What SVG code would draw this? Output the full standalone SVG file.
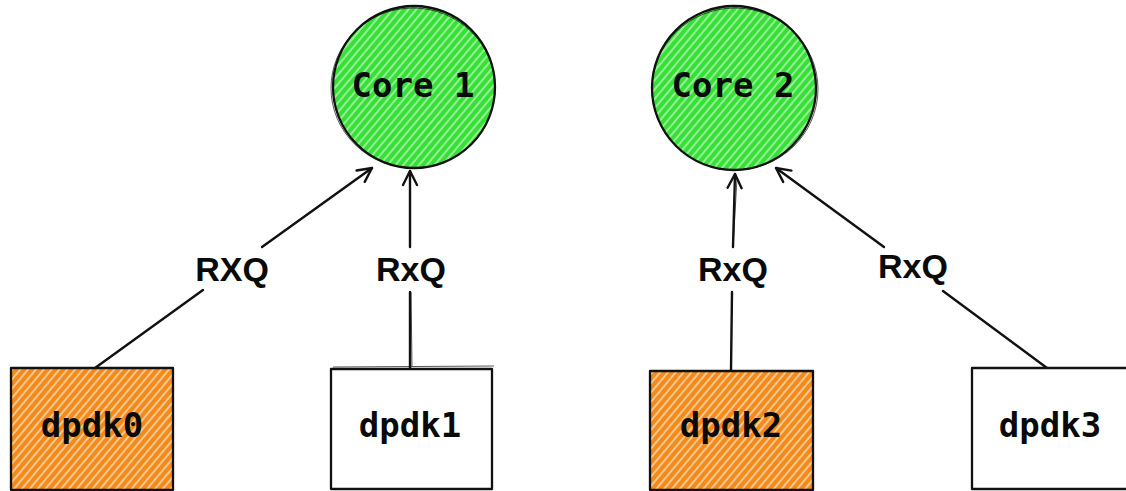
<svg xmlns="http://www.w3.org/2000/svg" width="1126" height="491" viewBox="0 0 1126 491">
  <defs>
    <pattern id="hatchGreen" patternUnits="userSpaceOnUse" width="6" height="6" patternTransform="rotate(40)">
      <rect width="6" height="6" fill="#36e036"/>
      <line x1="1" y1="0" x2="1" y2="6" stroke="#ffffff" stroke-width="1.2" stroke-opacity="0.8"/>
    </pattern>
    <pattern id="hatchOrange" patternUnits="userSpaceOnUse" width="6" height="6" patternTransform="rotate(40)">
      <rect width="6" height="6" fill="#f38a1a"/>
      <line x1="1" y1="0" x2="1" y2="6" stroke="#ffffff" stroke-width="1.3" stroke-opacity="0.8"/>
    </pattern>
    <marker id="arrow" markerUnits="userSpaceOnUse" markerWidth="20" markerHeight="20" viewBox="0 0 20 20" refX="18" refY="10" orient="auto">
      <path d="M4,3 L18,10 L4,17" fill="none" stroke="#111111" stroke-width="2.4" stroke-linejoin="round" stroke-linecap="round"/>
    </marker>
    <style>
      .outline { stroke: #111111; stroke-width: 2.3; fill: none; stroke-linecap: round; stroke-linejoin: round; }
      .sketch { stroke: #111111; stroke-width: 1; fill: none; opacity: 0.7; }
      .edge { stroke: #111111; stroke-width: 2.4; fill: none; stroke-linecap: round; }
      .nodeText { font-family: "DejaVu Sans Mono", "Liberation Mono", monospace; font-weight: bold; font-size: 34px; fill: #0a0a0a; text-anchor: middle; }
      .edgeText { font-family: "Liberation Sans", Arial, sans-serif; font-weight: bold; font-size: 34px; fill: #0a0a0a; text-anchor: middle; }
    </style>
  </defs>
  <rect width="1126" height="491" fill="#ffffff"/>

  <g id="connectors">
    <!-- dpdk0 -> Core 1 -->
    <line class="edge" x1="95" y1="368" x2="203" y2="290"/>
    <line class="edge" x1="262" y1="247" x2="372" y2="168" marker-end="url(#arrow)"/>
    <!-- dpdk1 -> Core 1 -->
    <line class="edge" x1="410" y1="368" x2="410" y2="292"/>
    <line class="edge" x1="410" y1="247" x2="410" y2="171" marker-end="url(#arrow)"/>
    <line class="sketch" x1="412" y1="366" x2="411" y2="292"/>
    <!-- dpdk2 -> Core 2 -->
    <line class="edge" x1="731" y1="370" x2="732" y2="292"/>
    <line class="edge" x1="733" y1="247" x2="735" y2="174" marker-end="url(#arrow)"/>
    <line class="sketch" x1="733" y1="248" x2="737" y2="178"/>
    <!-- dpdk3 -> Core 2 -->
    <line class="edge" x1="1047" y1="368" x2="943" y2="291"/>
    <line class="edge" x1="884" y1="247" x2="776" y2="168" marker-end="url(#arrow)"/>
    <text class="edgeText" x="232" y="281">RXQ</text>
    <text class="edgeText" x="411" y="281">RxQ</text>
    <text class="edgeText" x="733" y="281">RxQ</text>
    <text class="edgeText" x="913" y="278">RxQ</text>
  </g>

  <g id="core1">
    <circle cx="414" cy="87" r="81" fill="url(#hatchGreen)"/>
    <circle class="outline" cx="414" cy="87" r="81"/>
    <ellipse class="sketch" cx="413" cy="88" rx="82" ry="80"/>
    <text class="nodeText" x="413" y="97">Core 1</text>
  </g>

  <g id="core2">
    <circle cx="734" cy="88" r="82" fill="url(#hatchGreen)"/>
    <circle class="outline" cx="734" cy="88" r="82"/>
    <ellipse class="sketch" cx="735" cy="89" rx="83" ry="81"/>
    <text class="nodeText" x="733" y="97">Core 2</text>
  </g>

  <g id="dpdk0">
    <rect x="11" y="368" width="162" height="122" fill="url(#hatchOrange)"/>
    <rect class="outline" x="11" y="368" width="162" height="122"/>
    <text class="nodeText" x="92" y="437">dpdk0</text>
  </g>

  <g id="dpdk1">
    <rect x="331" y="369" width="161" height="120" fill="#ffffff"/>
    <rect class="outline" x="331" y="369" width="161" height="120"/>
    <line class="sketch" x1="333" y1="367" x2="494" y2="366"/>
    <text class="nodeText" x="410" y="437">dpdk1</text>
  </g>

  <g id="dpdk2">
    <rect x="650" y="371" width="163" height="119" fill="url(#hatchOrange)"/>
    <rect class="outline" x="650" y="371" width="163" height="119"/>
    <text class="nodeText" x="731" y="437">dpdk2</text>
  </g>

  <g id="dpdk3">
    <rect x="972" y="368" width="162" height="121" fill="#ffffff"/>
    <rect class="outline" x="972" y="368" width="162" height="121"/>
    <text class="nodeText" x="1050" y="437">dpdk3</text>
  </g>
</svg>
